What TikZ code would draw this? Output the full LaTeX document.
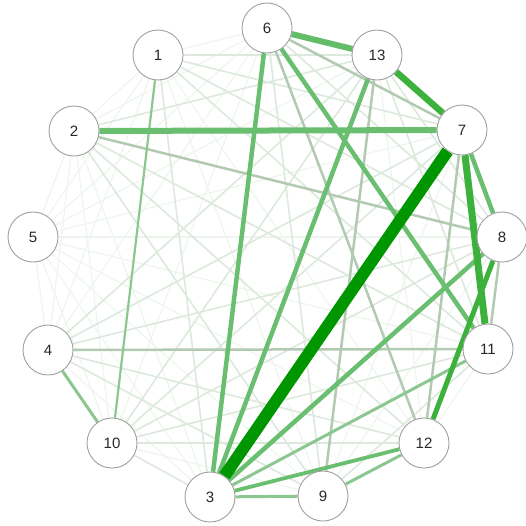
\documentclass[tikz,border=0pt]{standalone}
\usepackage{fontspec}
\setmainfont{Liberation Sans}
\usetikzlibrary{backgrounds}
\definecolor{cA}{RGB}{0,150,0}
\definecolor{cB}{RGB}{60,178,60}
\definecolor{cC}{RGB}{105,190,112}
\definecolor{cD}{RGB}{140,198,145}
\definecolor{cE}{RGB}{178,202,178}
\definecolor{cF}{RGB}{220,233,220}
\definecolor{cG}{RGB}{238,245,238}
\definecolor{txt}{RGB}{40,40,40}
\tikzset{
  vtx/.style={circle,draw=gray!75,line width=0.9pt,fill=white,minimum size=50pt,inner sep=0pt,font=\fontsize{15}{15}\selectfont,text=txt},
  eA/.style={cA,line width=12pt},
  eB/.style={cB,line width=6.5pt},
  eC/.style={cC,line width=4.5pt},
  eD/.style={cD,line width=3pt},
  eE/.style={cE,line width=2.5pt},
  eF/.style={cF,line width=1.6pt},
  eG/.style={cG,line width=1.2pt}
}
\begin{document}
\begin{tikzpicture}[x=1pt,y=-1pt]
\useasboundingbox (0,0) rectangle (526,525);
\node[vtx] (n1) at (158,55) {1};
\node[vtx] (n2) at (74,131) {2};
\node[vtx] (n5) at (33,237) {5};
\node[vtx] (n4) at (48,350) {4};
\node[vtx] (n10) at (112,443) {10};
\node[vtx] (n3) at (210,497) {3};
\node[vtx] (n9) at (323,496) {9};
\node[vtx] (n12) at (424,443) {12};
\node[vtx] (n11) at (488,349) {11};
\node[vtx] (n8) at (502,237) {8};
\node[vtx] (n7) at (462,130) {7};
\node[vtx] (n13) at (377,55) {13};
\node[vtx] (n6) at (267,28) {6};
\begin{pgfonlayer}{background}
% very faint
\foreach \a/\b in {1/2,1/4,1/5,1/6,1/9,2/4,2/5,2/6,2/10,3/4,3/5,4/5,4/6,5/6,5/7,5/8,5/9,5/10,5/11,5/12,5/13,6/10,7/9,8/9,9/10,11/12,2/3,1/12,12/13}
  \draw[eG] (n\a) -- (n\b);
% faint
\foreach \a/\b in {1/3,1/7,1/8,1/11,1/13,2/9,2/11,2/12,2/13,3/10,4/7,4/8,4/9,4/12,4/13,6/8,6/9,7/10,8/10,8/13,9/11,10/11,10/12,10/13,11/13}
  \draw[eF] (n\a) -- (n\b);
% light
\foreach \a/\b in {2/8,6/12,4/11,13/9,7/12,6/7,8/11}
  \draw[eE] (n\a) -- (n\b);
% medium light
\foreach \a/\b in {9/12,3/9,4/10,3/11}
  \draw[eD] (n\a) -- (n\b);
\draw[eD,line width=2.2pt] (n1) -- (n10);
% medium
\foreach \a/\b in {3/6,3/13,6/11,3/8,7/8}
  \draw[eC] (n\a) -- (n\b);
\draw[eC,line width=3.8pt] (n3) -- (n12);
\draw[eC,line width=6pt] (n2) -- (n7);
\draw[eC,line width=6pt,cC!85!cB] (n6) -- (n13);
% strong
\draw[eB] (n13) -- (n7);
\draw[eB,line width=7pt] (n7) -- (n11);
\draw[eB,line width=5pt] (n8) -- (n12);
\draw[eA] (n3) -- (n7);
\end{pgfonlayer}
\end{tikzpicture}
\end{document}
